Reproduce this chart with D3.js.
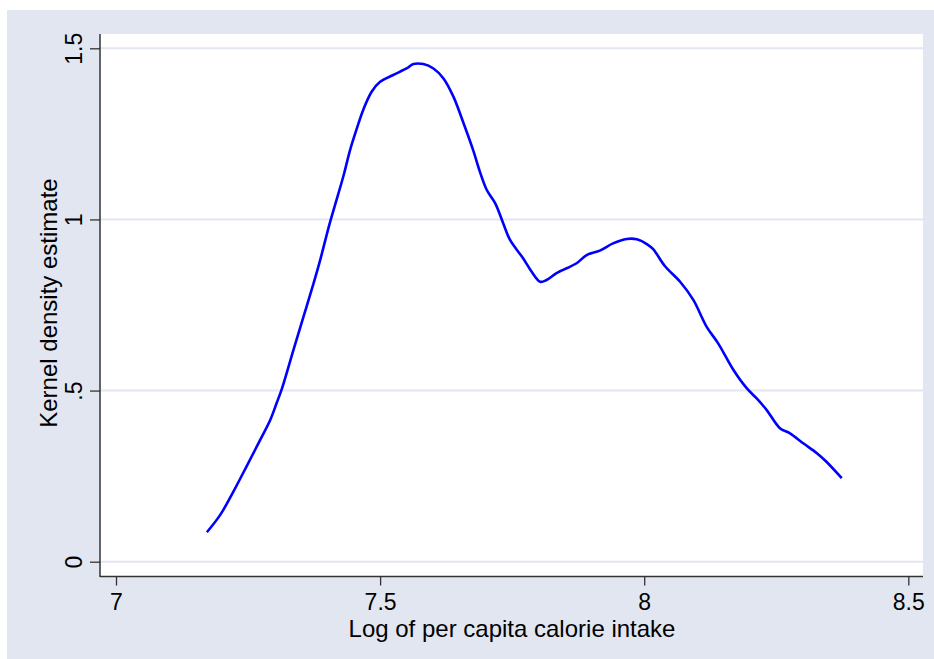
<!DOCTYPE html>
<html><head><meta charset="utf-8">
<script src="https://cdn.jsdelivr.net/npm/d3@7"></script>
<style>body{margin:0;background:#fff}svg{display:block}text{font-family:"Liberation Sans",Arial,sans-serif;fill:#000}</style>
</head><body><svg id="c" width="934" height="659"></svg>
<script>
const xTicks = [7, 7.5, 8, 8.5];
const xTickLabels = ["7", "7.5", "8", "8.5"];
const yTicks = [0, 0.5, 1, 1.5];
const yTickLabels = ["0", ".5", "1", "1.5"];
const logCalories = [7.172,7.197,7.222,7.247,7.273,7.292,7.304,7.314,7.336,7.355,7.374,7.386,7.404,7.420,7.432,7.443,7.456,7.468,7.484,7.500,7.525,7.550,7.563,7.582,7.601,7.620,7.639,7.658,7.676,7.689,7.702,7.718,7.733,7.746,7.771,7.787,7.803,7.815,7.834,7.872,7.891,7.916,7.941,7.967,7.986,8.005,8.017,8.039,8.068,8.093,8.118,8.140,8.169,8.194,8.213,8.232,8.257,8.276,8.301,8.327,8.345,8.374];
const density = [0.086,0.136,0.204,0.278,0.356,0.414,0.463,0.505,0.619,0.716,0.813,0.878,0.985,1.070,1.135,1.202,1.266,1.320,1.373,1.402,1.422,1.441,1.454,1.454,1.441,1.412,1.358,1.281,1.203,1.139,1.086,1.047,0.989,0.940,0.886,0.847,0.818,0.823,0.843,0.872,0.896,0.909,0.930,0.943,0.942,0.928,0.913,0.864,0.818,0.765,0.687,0.638,0.560,0.507,0.477,0.443,0.390,0.375,0.346,0.317,0.292,0.244];

const svg = d3.select("#c");
const plot = {l:100, r:923, t:34, b:577};
const x = d3.scaleLinear().domain([7, 8.5]).range([116, 908.3]);
const y = d3.scaleLinear().domain([0, 1.5]).range([561.7, 48.3]);

svg.append("rect").attr("x",7).attr("y",10).attr("width",927).attr("height",649).attr("fill","#e2e6f1");
svg.append("rect").attr("x",plot.l).attr("y",plot.t).attr("width",plot.r-plot.l).attr("height",plot.b-plot.t).attr("fill","#fff");

// gridlines
svg.append("g").selectAll("line").data(yTicks).join("line")
  .attr("x1",plot.l).attr("x2",plot.r).attr("y1",d=>y(d)).attr("y2",d=>y(d))
  .attr("stroke","#e2e6f1").attr("stroke-width",2);

// curve
const pts = logCalories.map((v,i)=>[v, density[i]]);
svg.append("path").datum(pts)
  .attr("d", d3.line().x(d=>x(d[0])).y(d=>y(d[1])).curve(d3.curveCatmullRom))
  .attr("fill","none").attr("stroke","#0000ff").attr("stroke-width",2.6).attr("stroke-linejoin","round");

// y axis
const yAxis = d3.axisLeft(y).tickValues(yTicks).tickFormat((d,i)=>yTickLabels[i]).tickSize(10).tickSizeOuter(0);
const gy = svg.append("g").attr("transform",`translate(${plot.l},0)`).call(yAxis);
gy.select(".domain").attr("d",`M0,${plot.t}V${plot.b}`).attr("stroke","#333").attr("stroke-width",1.5);
gy.selectAll(".tick line").attr("stroke","#333").attr("stroke-width",1.3);
gy.selectAll(".tick text").attr("x",null).attr("dy",null)
  .attr("transform","translate(-18,0) rotate(-90)").attr("text-anchor","middle").attr("y",0)
  .style("font-size","23px").style("font-family","'Liberation Sans',Arial,sans-serif").attr("fill","#000");

// x axis
const xAxis = d3.axisBottom(x).tickValues(xTicks).tickFormat((d,i)=>xTickLabels[i]).tickSize(9).tickSizeOuter(0);
const gx = svg.append("g").attr("transform",`translate(0,${plot.b-0.5})`).call(xAxis);
gx.select(".domain").attr("d",`M${plot.l},0H${plot.r}`).attr("stroke","#333").attr("stroke-width",1.5);
gx.selectAll(".tick line").attr("stroke","#333").attr("stroke-width",1.3);
gx.selectAll(".tick text").attr("dy",null).attr("y",33)
  .style("font-size","23px").style("font-family","'Liberation Sans',Arial,sans-serif").attr("fill","#000");

// titles
svg.append("text").attr("x",512).attr("y",637).attr("text-anchor","middle")
  .style("font-size","24px").text("Log of per capita calorie intake");
svg.append("text").attr("transform","translate(57,303) rotate(-90)").attr("text-anchor","middle")
  .style("font-size","24px").text("Kernel density estimate");
</script></body></html>
